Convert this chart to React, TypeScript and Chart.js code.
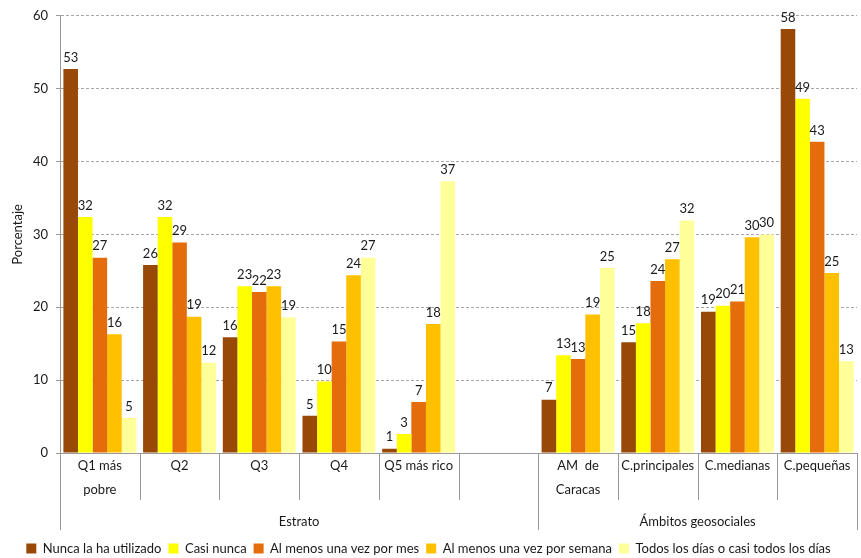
import React, { useEffect, useRef } from "react";
import { Chart, registerables } from "chart.js";

Chart.register(...registerables);

const categories: (string | string[])[] = [
  ["Q1 más", "pobre"],
  "Q2",
  "Q3",
  "Q4",
  "Q5 más rico",
  "",
  ["AM  de", "Caracas"],
  "C.principales",
  "C.medianas",
  "C.pequeñas",
];

const seriesNames = [
  "Nunca la ha utilizado",
  "Casi nunca",
  "Al menos una vez por mes",
  "Al menos una vez por semana",
  "Todos los días o casi todos los días",
];

const nunca = [52.7, 25.8, 15.9, 5.1, 0.6, null, 7.3, 15.2, 19.4, 58.2];
const casiNunca = [32.4, 32.4, 22.9, 9.8, 2.6, null, 13.4, 17.8, 20.2, 48.6];
const mes = [26.8, 28.9, 22.1, 15.3, 7.0, null, 12.9, 23.6, 20.8, 42.7];
const semana = [16.3, 18.7, 22.9, 24.4, 17.7, null, 19.0, 26.6, 29.6, 24.7];
const diario = [4.8, 12.4, 18.6, 26.8, 37.3, null, 25.4, 31.9, 30.0, 12.6];

const seriesColors = ["#984807", "#FFFF00", "#E46C0A", "#FFC000", "#FFFF99"];

const groups = [
  { label: "Estrato", from: 0, to: 5 },
  { label: "Ámbitos geosociales", from: 6, to: 9 },
];

const yTicks = [0, 10, 20, 30, 40, 50, 60];

const FONT = "Lato, 'Open Sans', sans-serif";

const valueLabels = {
  id: "valueLabels",
  afterDatasetsDraw(chart: any) {
    const ctx = chart.ctx;
    ctx.save();
    ctx.font = `13px ${FONT}`;
    ctx.fillStyle = "#1a1a1a";
    ctx.textAlign = "center";
    ctx.textBaseline = "bottom";
    chart.data.datasets.forEach((ds: any, di: number) => {
      const meta = chart.getDatasetMeta(di);
      meta.data.forEach((bar: any, i: number) => {
        const v = ds.data[i];
        if (v === null || v === undefined) return;
        ctx.fillText(String(Math.round(v)), bar.x, bar.y - 5);
      });
    });
    ctx.restore();
  },
};

const groupAxis = {
  id: "groupAxis",
  afterDraw(chart: any) {
    const ctx = chart.ctx;
    const x = chart.scales.x;
    const n = chart.data.labels.length;
    const half = (x.getPixelForValue(1) - x.getPixelForValue(0)) / 2;
    const top = x.top;
    ctx.save();
    ctx.strokeStyle = "#999999";
    ctx.lineWidth = 1;
    ctx.beginPath();
    ctx.moveTo(x.left, Math.round(top) + 0.5);
    ctx.lineTo(x.right, Math.round(top) + 0.5);
    ctx.stroke();
    const bounds: number[] = [];
    for (let i = 0; i <= n; i++) bounds.push(x.getPixelForValue(i) - half);
    const longIdx = new Set<number>();
    groups.forEach((g) => {
      longIdx.add(g.from);
      longIdx.add(g.to + 1);
    });
    bounds.forEach((bx, i) => {
      const px = Math.round(bx) + 0.5;
      ctx.beginPath();
      ctx.moveTo(px, top);
      ctx.lineTo(px, top + (longIdx.has(i) ? 77 : 47));
      ctx.stroke();
    });
    ctx.fillStyle = "#1a1a1a";
    ctx.font = `13px ${FONT}`;
    ctx.textAlign = "center";
    ctx.textBaseline = "middle";
    groups.forEach((g) => {
      const cx = (bounds[g.from] + bounds[g.to + 1]) / 2;
      ctx.fillText(g.label, cx, top + 69);
    });
    ctx.restore();
  },
};

export default function App() {
  const ref = useRef<HTMLCanvasElement>(null);
  useEffect(() => {
    document.body.style.margin = "0";
    const allData = [nunca, casiNunca, mes, semana, diario];
    const chart = new Chart(ref.current!, {
      type: "bar",
      data: {
        labels: categories,
        datasets: seriesNames.map((name, i) => ({
          label: name,
          data: allData[i],
          backgroundColor: seriesColors[i],
          borderWidth: 0,
          categoryPercentage: 0.915,
          barPercentage: 1,
        })),
      },
      options: {
        animation: false,
        responsive: false,
        maintainAspectRatio: false,
        layout: { padding: { top: 12, right: 4, left: 0, bottom: -7 } },
        plugins: {
          legend: {
            position: "bottom",
            labels: {
              font: { family: FONT, size: 13 },
              color: "#1a1a1a",
              boxWidth: 10,
              boxHeight: 10,
              padding: 7,
            },
          },
          tooltip: { enabled: false },
        },
        scales: {
          x: {
            grid: { display: false, drawTicks: false },
            border: { display: false },
            ticks: {
              font: { family: FONT, size: 13, lineHeight: 1.85 },
              color: "#1a1a1a",
              padding: 1,
              maxRotation: 0,
              autoSkip: false,
            },
            afterFit: (s: any) => {
              s.height = 82;
            },
          },
          y: {
            min: 0,
            max: 60,
            afterBuildTicks: (s: any) => {
              s.ticks = yTicks.map((v) => ({ value: v }));
            },
            grid: {
              color: "#A6A6A6",
              tickLength: 4,
              tickColor: "#999999",
              drawTicks: true,
              tickBorderDash: [],
            },
            border: { display: true, color: "#999999", dash: [3, 2] as any },
            ticks: {
              font: { family: FONT, size: 13 },
              color: "#1a1a1a",
              padding: 8,
            },
            title: {
              display: true,
              text: "Porcentaje",
              font: { family: FONT, size: 13 },
              color: "#1a1a1a",
              padding: { top: 10, bottom: 2 },
            },
            afterFit: (s: any) => {
              s.width = 60;
            },
          },
        },
      },
      plugins: [valueLabels, groupAxis],
    });
    return () => chart.destroy();
  }, []);
  return (
    <div style={{ width: 861, height: 558 }}>
      <canvas ref={ref} width={861} height={558} />
    </div>
  );
}
